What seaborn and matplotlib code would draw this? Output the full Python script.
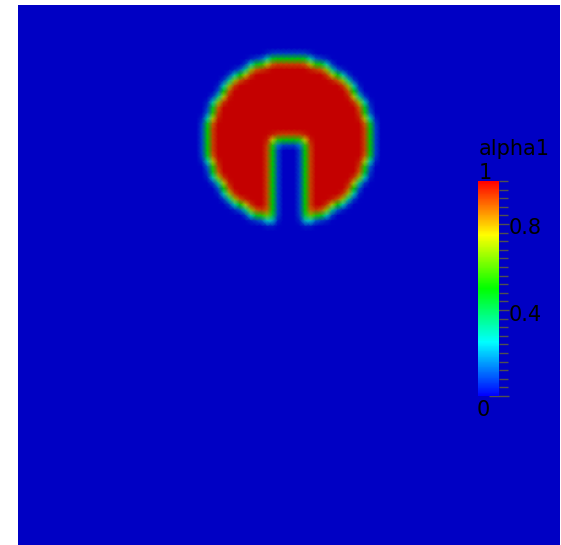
import numpy as np
import seaborn as sns
import matplotlib.pyplot as plt
from matplotlib.colors import LinearSegmentedColormap, Normalize, to_rgb
from matplotlib.cm import ScalarMappable

# slotted disk on a 100 x 100 cell mesh (domain units)
n_cells = 100
disk_center = (50.0, 75.0)
disk_radius = 15.0
slot_half_width = 3.0
slot_top = 75.0

# colour scale
rainbow = ['#0000ff', '#00ffff', '#00ff00', '#ffff00', '#ff0000']
shade = 0.77  # lit surface is darker than the legend
major_ticks = [0.0, 0.4, 0.8]
minor_ticks = np.round(np.arange(0, 1.0001, 0.04), 2)
field_name = 'alpha1'

W, H = 561, 545


def fx(px):
    return px / W


def fy(py):
    return 1 - py / H


# cell indicator
c = np.arange(n_cells) + 0.5
X, Y = np.meshgrid(c, n_cells - c)  # row 0 is the top of the domain
inside = (X - disk_center[0]) ** 2 + (Y - disk_center[1]) ** 2 <= disk_radius ** 2
slot = (np.abs(X - disk_center[0]) < slot_half_width) & (Y < slot_top)
alpha_cell = (inside & ~slot).astype(float)

# cell -> point data, then a light smear like the VOF interface
p = np.pad(alpha_cell, 1, mode='edge')
alpha_pts = 0.25 * (p[:-1, :-1] + p[1:, :-1] + p[:-1, 1:] + p[1:, 1:])
k = np.array([1, 4, 1]) / 6
q = np.pad(alpha_pts, 1, mode='edge')
alpha_pts = k[0] * q[:-2, 1:-1] + k[1] * q[1:-1, 1:-1] + k[2] * q[2:, 1:-1]
q = np.pad(alpha_pts, 1, mode='edge')
alpha_pts = k[0] * q[1:-1, :-2] + k[1] * q[1:-1, 1:-1] + k[2] * q[1:-1, 2:]

legend_cmap = LinearSegmentedColormap.from_list('b2r', rainbow)
field_cmap = LinearSegmentedColormap.from_list(
    'b2r_lit', [tuple(shade * v for v in to_rgb(col)) for col in rainbow])

sns.set_theme(style='white')
plt.rcParams['font.family'] = ['DejaVu Sans']

fig = plt.figure(figsize=(W / 100, H / 100), dpi=100)
ax = fig.add_axes([fx(17.5), 0, fx(560) - fx(17.5), fy(5)])
sns.heatmap(alpha_pts, ax=ax, cmap=field_cmap, vmin=0, vmax=1, cbar=False,
            xticklabels=False, yticklabels=False, shading='gouraud')
ax.set_xlim(0, n_cells)
ax.set_ylim(n_cells, 0)
for s in ax.spines.values():
    s.set_visible(False)

# legend bar
cax = fig.add_axes([fx(478), fy(396), fx(499) - fx(478), fy(181) - fy(396)])
cb = fig.colorbar(ScalarMappable(Normalize(0, 1), legend_cmap), cax=cax)
cb.outline.set_visible(False)
cax.set_yticks(major_ticks)
cax.set_yticks(minor_ticks, minor=True)
cax.set_yticklabels([])
cax.tick_params(axis='y', which='major', direction='inout', length=14, width=1,
                color='#505050', right=True, left=False)
cax.tick_params(axis='y', which='minor', direction='out', length=6.5, width=1,
                color='#505050', right=True, left=False)

txt = dict(fontsize=15, color='black')
fig.text(fx(479), fy(155), field_name, ha='left', va='baseline', **txt)
fig.text(fx(479), fy(179), '1', ha='left', va='baseline', **txt)
fig.text(fx(477), fy(416), '0', ha='left', va='baseline', **txt)
fig.text(fx(509), fy(228), '0.8', ha='left', va='center', **txt)
fig.text(fx(509), fy(315), '0.4', ha='left', va='center', **txt)

fig.savefig('out.png', dpi=100, facecolor='white')
